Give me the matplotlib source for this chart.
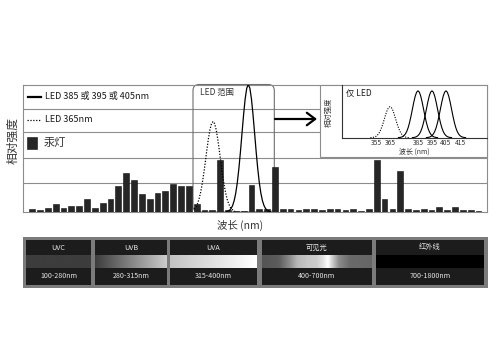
import numpy as np
import matplotlib
matplotlib.use("Agg")
import matplotlib.pyplot as plt
from matplotlib.patches import Rectangle, FancyBboxPatch, FancyArrowPatch
from matplotlib.lines import Line2D

plt.rcParams['font.family'] = ['Noto Sans CJK SC', 'DejaVu Sans']

# ---- data -------------------------------------------------------------
# mercury lamp emission, relative intensity (%) per wavelength bin
hg_lamp = [2.4, 1.8, 2.9, 6.5, 2.9, 5.0, 5.0, 10.2, 2.9, 6.7,
           10.2, 20.3, 30.3, 25.0, 14.0, 10.2, 15.0, 16.1, 22.3, 20.3,
           20.3, 6.5, 1.8, 1.8, 40.8, 1.8, 1.0, 0.6, 21.5, 2.4,
           2.4, 35.2, 2.4, 2.4, 1.2, 2.4, 2.4, 1.6, 2.4, 2.4,
           1.4, 2.6, 0.8, 2.6, 41.0, 10.0, 2.4, 32.5, 2.4, 1.6,
           2.4, 1.8, 4.3, 1.8, 4.3, 1.8, 1.8, 0.8]

# LED 385/395/405 nm emission on the lamp's bin scale
led_uv_x = [24.8, 25.0, 25.2, 25.4, 25.6, 25.8, 26.0, 26.2, 26.4, 26.6,
            26.8, 27.0, 27.2, 27.4, 27.6, 27.8, 28.0, 28.2, 28.4, 28.6,
            28.8, 29.0, 29.2, 29.4, 29.6, 29.8, 30.0, 30.2, 30.4]
led_uv_y = [0.3, 0.7, 1.4, 2.7, 5.1, 9.0, 14.9, 23.3, 34.3, 47.5,
            62.1, 76.5, 88.8, 97.1, 100.0, 97.1, 88.8, 76.5, 62.1, 47.5,
            34.3, 23.3, 14.9, 9.0, 5.1, 2.7, 1.4, 0.7, 0.3]

# LED 365 nm emission on the lamp's bin scale
led365_x = [20.7, 20.9, 21.1, 21.3, 21.5, 21.7, 21.9, 22.1, 22.3, 22.5,
            22.7, 22.9, 23.1, 23.3, 23.5, 23.7, 23.9, 24.1, 24.3, 24.5,
            24.7, 24.9, 25.1, 25.3, 25.5, 25.7, 25.9]
led365_y = [2.2, 3.8, 6.3, 10.0, 15.1, 21.7, 29.7, 38.8, 48.3, 57.2,
            64.5, 69.3, 71.0, 69.3, 64.5, 57.2, 48.3, 38.8, 29.7, 21.7,
            15.1, 10.0, 6.3, 3.8, 2.2, 1.2, 0.6]

# "LED only" panel: emission line shape (offset in nm, relative level)
inset_offset_nm = [-14, -13, -12, -11, -10, -9, -8, -7, -6, -5, -4, -3, -2, -1, 0,
                   1, 2, 3, 4, 5, 6, 7, 8, 9, 10, 11, 12, 13, 14]
inset_profile = [0.002, 0.005, 0.011, 0.023, 0.044, 0.080, 0.135, 0.216, 0.325,
                 0.458, 0.607, 0.755, 0.883, 0.969, 1.0, 0.969, 0.883, 0.755,
                 0.607, 0.458, 0.325, 0.216, 0.135, 0.080, 0.044, 0.023, 0.011,
                 0.005, 0.002]
inset_uv_peaks_nm = [385, 395, 405]
inset_uv_level = 0.89
inset_365_peak_nm = 365
inset_365_level = 0.59
inset_ticks = [355, 365, 385, 395, 405, 415]

# spectrum bands
band_names = ['UVC', 'UVB', 'UVA', '可见光', '红外线']
band_ranges = ['100-280nm', '280-315nm', '315-400nm', '400-700nm', '700-1800nm']

# ---- figure -----------------------------------------------------------
W, H = 500, 350
fig = plt.figure(figsize=(W / 100, H / 100), dpi=100)
fig.patch.set_facecolor('white')


def fig_rect(x0, y0, x1, y1):
    """pixel box (y measured from top) -> figure fraction rect"""
    return [x0 / W, 1 - y1 / H, (x1 - x0) / W, (y1 - y0) / H]


GRID = '#8c8c8c'

# main spectrum axes
ax = fig.add_axes(fig_rect(23, 84.5, 487, 212))
ax.set_xlim(-1.17, 58.08)
ax.set_ylim(0, 100)
ax.set_yticks([22.4, 42.7, 62.4, 80.8])
ax.set_xticks([])
ax.tick_params(axis='y', length=0, labelleft=False)
ax.grid(axis='y', color=GRID, lw=0.8)
ax.set_axisbelow(True)
for s in ax.spines.values():
    s.set_color(GRID)
    s.set_linewidth(0.8)

ax.bar(np.arange(len(hg_lamp)), hg_lamp, width=0.74, color='#262626',
       edgecolor='#111111', lw=0.4, zorder=3)

# LED range frame with rounded corners
bx0 = (193 - 23) / 464
bx1 = (274.3 - 23) / 464
ax.add_patch(FancyBboxPatch((bx0, 0), bx1 - bx0, 1,
                            boxstyle='round,pad=0,rounding_size=0.013',
                            mutation_aspect=464 / 127.5, transform=ax.transAxes,
                            fc='none', ec='#6e6e6e', lw=0.8, zorder=2, clip_on=False))

ax.plot(led365_x, led365_y, color='black', lw=0.9, ls=(0, (1, 1.3)), zorder=4)
ax.plot(led_uv_x, led_uv_y, color='black', lw=0.9, zorder=4)

# overlay in pixel coordinates for legend, labels and band strip
ov = fig.add_axes([0, 0, 1, 1], zorder=5)
ov.set_xlim(0, W)
ov.set_ylim(H, 0)
ov.axis('off')
ov.patch.set_visible(False)

TXT = '#1a1a1a'
ov.text(13, 140, '相对强度', rotation=90, ha='center', va='center', fontsize=8.5, color='#333333')

ov.add_line(Line2D([28, 41], [96.5, 96.5], color='black', lw=1.6))
ov.text(45, 96.5, 'LED 385 或 395 或 405nm', ha='left', va='center', fontsize=6.5,
        color=TXT, fontweight='medium')
ov.add_line(Line2D([27, 40], [120, 120], color='black', lw=0.9, ls=(0, (1, 1.3))))
ov.text(45, 120, 'LED 365nm', ha='left', va='center', fontsize=6.5, color=TXT,
        fontweight='medium')
ov.add_patch(Rectangle((27, 137), 10, 11.5, fc='#262626', ec='#111111', lw=0.4))
ov.text(44, 142.5, '汞灯', ha='left', va='center', fontsize=8, color='#333333')

ov.text(200, 92.5, 'LED 范围', ha='left', va='center', fontsize=6, color='#333333')
ov.text(240, 225, '波长 (nm)', ha='center', va='center', fontsize=7.5, color='#333333')

ov.add_patch(FancyArrowPatch((275, 119), (317, 119),
                             arrowstyle='->,head_length=0.6,head_width=0.45',
                             mutation_scale=10, lw=1.6, color='black',
                             shrinkA=0, shrinkB=0))

# LED-only panel frame
ov.add_patch(Rectangle((320, 84.5), 167, 72.5, fc='white', ec=GRID, lw=0.8))
ov.text(328.5, 112, '相对强度', rotation=90, ha='center', va='center', fontsize=5.3,
        color='#333333')
ov.text(346, 93.5, '仅 LED', ha='left', va='center', fontsize=6, color=TXT)
ov.text(414, 151.2, '波长 (nm)', ha='center', va='center', fontsize=5.0, color='#333333')

# spectrum band strip
ov.add_patch(Rectangle((23, 237), 465, 51, fc='#7b7b7b', ec='none', zorder=1))
boxes = [(26, 91), (95, 167), (170, 257), (262, 372), (376, 484)]
shades = [
    ([0, 1], [0.24, 0.24]),
    ([0, 1], [0.24, 0.80]),
    ([0, 1], [0.76, 1.0]),
    ([0, 0.15, 0.25, 0.32, 0.42, 0.5, 0.56, 0.6, 0.63, 0.7, 0.8, 1.0],
     [0.33, 0.36, 0.55, 0.72, 0.78, 0.80, 0.90, 1.0, 0.85, 0.55, 0.42, 0.40]),
    ([0, 1], [0.0, 0.0]),
]
cols = np.linspace(0, 1, 300)
for (x0, x1), (sx, sv), name, rng in zip(boxes, shades, band_names, band_ranges):
    ov.add_patch(Rectangle((x0, 240), x1 - x0, 45, fc='#1c1c1c', ec='none', zorder=2))
    grad = np.interp(cols, sx, sv)[None, :]
    ov.imshow(grad, cmap='gray', vmin=0, vmax=1, aspect='auto',
              extent=(x0, x1, 268, 255), interpolation='bilinear', zorder=3)
    ov.text((x0 + x1) / 2, 247.5, name, ha='center', va='center', fontsize=5.2,
            color='#e6e6e6', zorder=4)
    ov.text((x0 + x1) / 2, 276.5, rng, ha='center', va='center', fontsize=5.1,
            color='#e6e6e6', zorder=4)
ov.set_xlim(0, W)
ov.set_ylim(H, 0)

# LED-only spectra
ai = fig.add_axes(fig_rect(341.7, 85, 486.7, 137.7), zorder=6)
ai.patch.set_visible(False)
ai.set_xlim(330.5, 434.1)
ai.set_ylim(0, 1)
ai.spines['top'].set_visible(False)
ai.spines['right'].set_visible(False)
for s in ('left', 'bottom'):
    ai.spines[s].set_color('#333333')
    ai.spines[s].set_linewidth(0.8)
ai.set_yticks([])
ai.set_xticks(inset_ticks)
ai.set_xticklabels([str(t) for t in inset_ticks])
ai.tick_params(axis='x', length=0, pad=0.8, labelsize=4.8, labelcolor='#333333')

off = np.array(inset_offset_nm)
prof = np.array(inset_profile)
ai.plot(inset_365_peak_nm + off, inset_365_level * prof, color='black', lw=0.8,
        ls=(0, (1, 1.3)))
for p in inset_uv_peaks_nm:
    ai.plot(p + off, inset_uv_level * prof, color='black', lw=0.8)

fig.savefig('out.png', dpi=100)
